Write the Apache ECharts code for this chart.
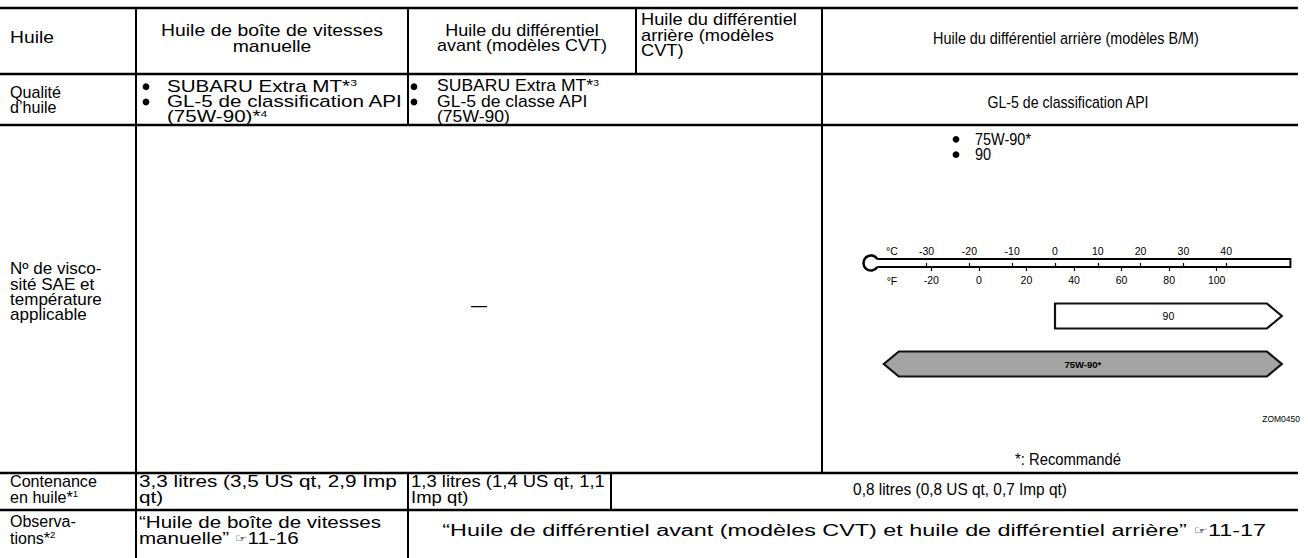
<!DOCTYPE html>
<html><head><meta charset="utf-8">
<script src="https://cdn.jsdelivr.net/npm/echarts@6/dist/echarts.min.js"></script>
<style>html,body{margin:0;padding:0;background:#fff}#c{width:1308px;height:558px}</style>
</head><body><div id="c"></div>
<script>
// ---------- data ----------
const rowHeaders = ['Huile', 'Qualité\nd’huile', 'Nº de visco-\nsité SAE et\ntempérature\napplicable', 'Contenance\nen huile*{sup|1}', 'Observa-\ntions*{sup|2}'];
const columnHeaders = ['Huile de boîte de vitesses\nmanuelle', 'Huile du différentiel\navant (modèles CVT)', 'Huile du différentiel\narrière (modèles\nCVT)', 'Huile du différentiel arrière (modèles B/M)'];
const qualityManual = [['SUBARU Extra MT*{sup|3}'], ['GL-5 de classification API', '(75W-90)*{sup|4}']];
const qualityFrontDiff = [['SUBARU Extra MT*{sup|3}'], ['GL-5 de classe API', '(75W-90)']];
const qualityRearBM = 'GL-5 de classification API';
const viscosityNone = '—';
const viscosityList = ['75W-90*', '90'];
const capacities = ['3,3 litres (3,5 US qt, 2,9 Imp\nqt)', '1,3 litres (1,4 US qt, 1,1\nImp qt)', '0,8 litres (0,8 US qt, 0,7 Imp qt)'];
const remarks = ['“Huile de boîte de vitesses\nmanuelle” {hand|☞}11-16', '“Huile de différentiel avant (modèles CVT) et huile de différentiel arrière” {hand|☞}11-17'];
const figureCode = 'ZOM0450';
const footnote = '*: Recommandé';

const celsiusTicks = [-30, -20, -10, 0, 10, 20, 30, 40];
const fahrenheitTicks = [-20, 0, 20, 40, 60, 80, 100];
const thermoRangeC = [-45, 55];
const bulbC = -43;
const gradeNames = ['90', '75W-90*'];
const gradeFromC = [0, -40];
const gradeToC = [53, 53];
const gradeOpenLow = [false, true];

// ---------- layout ----------
const FONT = '"Liberation Sans", Arial, Helvetica, sans-serif';
const FS = 16, LH = 15.3;
const Y = [8, 74, 125, 473, 510, 558];
const XC = [136, 408, 636, 822, 1298];
const X4 = 611;
const RICH = {
  sup: { fontSize: 9.5, fontFamily: FONT, fill: '#000', padding: [0, 0, 7, 0], lineHeight: LH },
  hand: { fontSize: 11, fontFamily: '"DejaVu Sans"', fill: '#000', lineHeight: LH }
};
const mctx = document.createElement('canvas').getContext('2d');
function measure(text, fs) {
  mctx.font = fs + 'px "Liberation Sans"';
  const plain = text.replace(/\{sup\|([^}]*)\}/g, '$1').replace(/\{hand\|([^}]*)\}/g, '$1');
  return Math.max.apply(null, plain.split('\n').map(l => mctx.measureText(l).width));
}
const els = [];
function hline(y, x1, x2) { els.push({ type: 'line', silent: true, shape: { x1, y1: y, x2, y2: y }, style: { stroke: '#000', lineWidth: 2.6 } }); }
function vline(x, y1, y2) { els.push({ type: 'line', silent: true, shape: { x1: x, y1, x2: x, y2 }, style: { stroke: '#000', lineWidth: 2 } }); }
function txt(text, x, y, o) {
  o = o || {};
  const fs = o.fontSize || FS;
  const sx = o.w ? o.w / measure(text, fs) : 1;
  const style = { text, fontSize: fs, fontFamily: FONT, fill: '#000', align: o.align || 'left', verticalAlign: 'middle', lineHeight: o.lh || LH, rich: RICH };
  els.push({ type: 'text', silent: true, x, y, scaleX: sx, style });
}
function dot(x, y) { els.push({ type: 'circle', silent: true, shape: { cx: x, cy: y, r: 3.4 }, style: { fill: '#000' } }); }

[Y[0], Y[1], Y[2], Y[3], Y[4]].forEach(y => hline(y, 0, XC[4]));
vline(XC[0], Y[0], Y[5]);
vline(XC[1], Y[0], Y[2]); vline(XC[1], Y[3], Y[5]);
vline(XC[2], Y[0], Y[1]);
vline(XC[3], Y[0], Y[3]);
vline(X4, Y[3], Y[4]);

// header row
txt(rowHeaders[0], 10, 38, { w: 44 });
txt(columnHeaders[0], 272, 38.5, { align: 'center', w: 222 });
txt(columnHeaders[1], 522, 38.5, { align: 'center', w: 170 });
txt(columnHeaders[2], 641, 35, { w: 156 });
txt(columnHeaders[3], 1066, 38, { align: 'center', w: 266 });
// quality row
function bulletList(items, dotX, textX, yc, w) {
  const lines = [].concat(...items);
  const top = yc - (lines.length - 1) * LH / 2;
  let k = 0;
  items.forEach(it => { dot(dotX, top + k * LH + 0.5); k += it.length; });
  txt(lines.join('\n'), textX, yc, { w });
}
txt(rowHeaders[1], 10, 99.5, { w: 51 });
bulletList(qualityManual, 146, 167, 101.5, 236);
bulletList(qualityFrontDiff, 414, 437, 101.5, 166);
txt(qualityRearBM, 1068, 102, { align: 'center', w: 162 });
// viscosity row
txt(rowHeaders[2], 10, 292, { w: 92 });
txt(viscosityNone, 479, 305, { align: 'center' });
bulletList(viscosityList.map(v => [v]), 956, 975, 146.5, 56);
txt(figureCode, 1300, 419, { align: 'right', fontSize: 8.5 });
txt(footnote, 1068, 459, { align: 'center', w: 106 });
// capacity row
txt(rowHeaders[3], 10, 489, { w: 87, lh: 16.5 });
txt(capacities[0], 139, 489, { w: 258, lh: 16 });
txt(capacities[1], 411, 489, { w: 194, lh: 16 });
txt(capacities[2], 960, 489, { align: 'center', w: 214 });
// remarks row
txt(rowHeaders[4], 10, 530, { lh: 16.5 });
txt(remarks[0], 139, 530, { w: 242, lh: 16 });
txt(remarks[1], 854, 530, { align: 'center', w: 830 });

// ---------- thermometer (axes + custom series) ----------
const toF = c => c * 1.8 + 32;
const gLeft = 862.4, gWidth = 428;
const smallLabel = { fontSize: 10.5, color: '#000', fontFamily: FONT };

const option = {
  animation: false,
  graphic: { elements: els },
  grid: [
    { left: gLeft, top: 259, width: gWidth, height: 8, containLabel: false, outerBoundsMode: 'none' },
    { left: gLeft, top: 292, width: gWidth, height: 96, containLabel: false, outerBoundsMode: 'none' }
  ],
  xAxis: [
    { gridIndex: 0, type: 'value', position: 'top', min: thermoRangeC[0], max: thermoRangeC[1],
      axisLine: { show: false }, splitLine: { show: false },
      axisTick: { show: true, customValues: celsiusTicks, length: 4, lineStyle: { color: '#000', width: 1.2 } },
      axisLabel: Object.assign({ customValues: celsiusTicks, margin: 3 }, smallLabel) },
    { gridIndex: 0, type: 'value', position: 'bottom', min: toF(thermoRangeC[0]), max: toF(thermoRangeC[1]),
      axisLine: { show: false }, splitLine: { show: false },
      axisTick: { show: true, customValues: fahrenheitTicks, length: 4, lineStyle: { color: '#000', width: 1.2 } },
      axisLabel: Object.assign({ customValues: fahrenheitTicks, margin: 7 }, smallLabel) },
    { gridIndex: 1, type: 'value', min: thermoRangeC[0], max: thermoRangeC[1], show: false }
  ],
  yAxis: [
    { gridIndex: 0, type: 'value', min: 0, max: 1, show: false },
    { gridIndex: 1, type: 'category', data: gradeNames, inverse: true, show: false }
  ],
  series: [
    { type: 'custom', xAxisIndex: 0, yAxisIndex: 0, silent: true, data: [[bulbC, thermoRangeC[1]]],
      renderItem(params, api) {
        const a = api.coord([api.value(0), 0.5]);
        const b = api.coord([api.value(1), 0.5]);
        const cy = a[1], r = 7.5, hh = 4;
        const ang = Math.asin(hh / r);
        const jx = a[0] + r * Math.cos(ang);
        const lab = (t, dy) => ({ type: 'text', x: a[0] + 21, y: cy + dy, style: { text: t, fontSize: 10.5, fontFamily: FONT, fill: '#000', align: 'center', verticalAlign: 'middle' } });
        return { type: 'group', children: [
          { type: 'arc', shape: { cx: a[0], cy, r, startAngle: ang, endAngle: 2 * Math.PI - ang, clockwise: true }, style: { stroke: '#000', lineWidth: 2.5, fill: null } },
          { type: 'polyline', shape: { points: [[jx, cy - hh], [b[0], cy - hh], [b[0], cy + hh], [jx, cy + hh]] }, style: { stroke: '#000', lineWidth: 2, fill: null } },
          lab('°C', -12), lab('°F', 18)
        ] };
      } },
    { type: 'custom', xAxisIndex: 2, yAxisIndex: 1, silent: true,
      data: gradeNames.map((n, i) => [gradeFromC[i], gradeToC[i], i]),
      encode: { x: [0, 1], y: 2 },
      renderItem(params, api) {
        const i = params.dataIndex;
        const s = api.coord([api.value(0), api.value(2)]);
        const e = api.coord([api.value(1), api.value(2)]);
        const h = 25, head = 15, yc = s[1], y0 = yc - h / 2, y1 = yc + h / 2;
        const pts = gradeOpenLow[i]
          ? [[s[0], yc], [s[0] + head, y0], [e[0] - head, y0], [e[0], yc], [e[0] - head, y1], [s[0] + head, y1]]
          : [[s[0], y0], [e[0] - head, y0], [e[0], yc], [e[0] - head, y1], [s[0], y1]];
        return { type: 'group', children: [
          { type: 'polygon', shape: { points: pts }, style: { fill: i ? '#a3a3a3' : '#fff', stroke: '#111', lineWidth: 2.2 } },
          { type: 'text', x: (s[0] + e[0]) / 2, y: yc, style: { text: gradeNames[i], fontSize: i ? 9.5 : 10.5, fontWeight: i ? 'bold' : 'normal', fontFamily: FONT, fill: '#000', align: 'center', verticalAlign: 'middle' } }
        ] };
      } }
  ]
};
const chart = echarts.init(document.getElementById('c'), null, { renderer: 'svg' });
chart.setOption(option);
</script>
</body></html>
